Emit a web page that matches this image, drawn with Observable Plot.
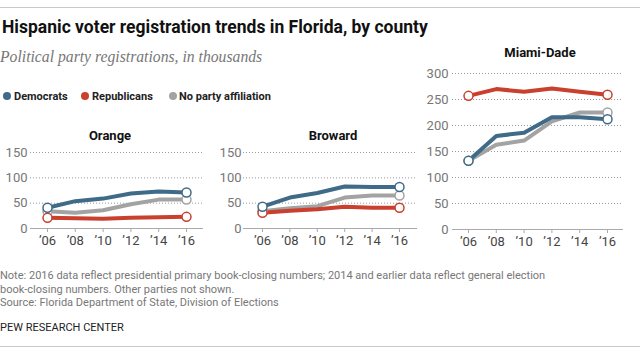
<!DOCTYPE html>
<html><head><meta charset="utf-8">
<script src="https://cdn.jsdelivr.net/npm/d3@7"></script>
<script src="https://cdn.jsdelivr.net/npm/@observablehq/plot@0.6"></script>
<style>
body{margin:0;background:#fff;}
#c{position:relative;width:640px;height:354px;overflow:hidden;font-family:"Liberation Sans Narrow",Roboto,sans-serif;}
.abs{position:absolute;white-space:nowrap;line-height:1;}
.rule{position:absolute;left:0;width:640px;height:1px;background:#c8c8c8;}
.ptitle{position:absolute;transform:translate(-50%,-50%);font-family:Roboto,sans-serif;font-weight:700;font-size:13px;color:#111;white-space:nowrap;line-height:1;}
.panel{position:absolute;}
.legdot{position:absolute;width:8px;height:8px;border-radius:50%;transform:translate(-50%,-50%);top:96px;}
.legtxt{position:absolute;top:96px;transform:translateY(-50%);font-family:Roboto,sans-serif;font-weight:700;font-size:11px;color:#222;line-height:1;white-space:nowrap;}
.note{position:absolute;left:0;font-family:Roboto,sans-serif;font-size:11px;color:#777;white-space:nowrap;line-height:1;}
</style></head><body><div id="c"></div>
<script>
// ---- data ----
const years = [2006, 2008, 2010, 2012, 2014, 2016];
const yearLabels = ["’06", "’08", "’10", "’12", "’14", "’16"];
const parties = ["Democrats", "Republicans", "No party affiliation"];
const partyColors = ["#3f6a88", "#c9402e", "#a3a3a3"];

const orangeDem = [41, 54, 59, 69, 73, 71];
const orangeRep = [21, 20, 19, 21, 22, 23];
const orangeNpa = [34, 31, 36, 48, 57, 57];

const browardDem = [43, 61, 70, 83, 82, 82];
const browardRep = [31, 35, 38, 43, 41, 41];
const browardNpa = [34, 40, 44, 61, 65, 65];

const miamiDem = [132, 180, 186, 216, 216, 212];
const miamiRep = [257, 270, 265, 271, 265, 259];
const miamiNpa = [132, 163, 171, 208, 225, 225];

const smallTicks = [0, 50, 100, 150];
const bigTicks = [0, 50, 100, 150, 200, 250, 300];

// ---- layout ----
const c = document.getElementById("c");
function add(html){ c.insertAdjacentHTML("beforeend", html); }

add(`<div class="rule" style="top:7px"></div>`);
add(`<div class="abs" style="left:2px;top:19px;font-size:17.5px;font-weight:700;color:#111;font-family:'Liberation Sans Narrow',Roboto,sans-serif">Hispanic voter registration trends in Florida, by county</div>`);
add(`<div class="abs" style="left:0px;top:49px;font-size:15.7px;font-style:italic;color:#777;font-family:'Liberation Serif','DejaVu Serif',serif">Political party registrations, in thousands</div>`);

const legDotX = [7, 85, 173];
const legTxtX = [14, 92, 179];
parties.forEach((p, i) => {
  add(`<span class="legdot" style="left:${legDotX[i]}px;background:${partyColors[i]}"></span>`);
  add(`<span class="legtxt" style="left:${legTxtX[i]}px">${p}</span>`);
});

function panel(opts) {
  const {title, dem, rep, npa, left, top, width, height, mt, mb, ml, mr, insL, insR, ymax, ticks, pad, tx, ty} = opts;
  const data = [];
  [["No party affiliation", npa], ["Republicans", rep], ["Democrats", dem]].forEach(([p, vals]) =>
    vals.forEach((v, i) => data.push({party: p, year: years[i], value: v})));
  const ends = data.filter(d => d.year === years[0] || d.year === years[years.length - 1]);
  const svg = Plot.plot({
    width, height,
    marginTop: mt, marginBottom: mb, marginLeft: ml, marginRight: mr,
    style: {fontFamily: "Roboto, 'Liberation Sans', sans-serif", fontSize: "13px", background: "transparent", overflow: "visible"},
    x: {domain: [years[0], years[years.length - 1]], insetLeft: insL, insetRight: insR},
    y: {domain: [0, ymax]},
    color: {domain: parties, range: partyColors},
    marks: [
      Plot.gridY(ticks.filter(d => d > 0), {stroke: "#999", strokeOpacity: 1, strokeDasharray: "1,2"}),
      Plot.axisY(ticks, {tickSize: 0, tickPadding: pad, color: "#777", label: null, fontSize: 13}),
      Plot.axisX(years, {tickSize: 4, tickPadding: 3, stroke: "#aaa", color: "#444", label: null, fontSize: 13,
        tickFormat: d => yearLabels[years.indexOf(d)]}),
      Plot.ruleY([0], {stroke: "#aaa"}),
      Plot.line(data, {x: "year", y: "value", z: "party", stroke: "party", strokeWidth: 4, strokeLinejoin: "round", strokeLinecap: "round"}),
      Plot.dot(ends, {x: "year", y: "value", stroke: "party", fill: "white", r: 4.5, strokeWidth: 1.5})
    ]
  });
  svg.classList.add("panel");
  svg.style.left = left + "px";
  svg.style.top = top + "px";
  c.appendChild(svg);
  add(`<div class="ptitle" style="left:${tx}px;top:${ty}px">${title}</div>`);
}

panel({title: "Orange", dem: orangeDem, rep: orangeRep, npa: orangeNpa,
  left: 0, top: 140, width: 210, height: 115, mt: 12, mb: 27, ml: 30, mr: 7, insL: 17, insR: 17,
  ymax: 150, ticks: smallTicks, pad: 3, tx: 110, ty: 135});
panel({title: "Broward", dem: browardDem, rep: browardRep, npa: browardNpa,
  left: 210, top: 140, width: 210, height: 115, mt: 12, mb: 27, ml: 33, mr: 3, insL: 19, insR: 18,
  ymax: 150, ticks: smallTicks, pad: 2, tx: 333, ty: 135});
panel({title: "Miami-Dade", dem: miamiDem, rep: miamiRep, npa: miamiNpa,
  left: 420, top: 60, width: 220, height: 195, mt: 13, mb: 26, ml: 32, mr: 17, insL: 16, insR: 16,
  ymax: 300, ticks: bigTicks, pad: 4, tx: 540, ty: 52});

add(`<div class="note" style="top:269.5px">Note: 2016 data reflect presidential primary book-closing numbers; 2014 and earlier data reflect general election</div>`);
add(`<div class="note" style="top:283.5px">book-closing numbers. Other parties not shown.</div>`);
add(`<div class="note" style="top:296.5px">Source: Florida Department of State, Division of Elections</div>`);
add(`<div class="note" style="top:321.5px;color:#222">PEW RESEARCH CENTER</div>`);
add(`<div class="rule" style="top:346px"></div>`);
</script></body></html>
